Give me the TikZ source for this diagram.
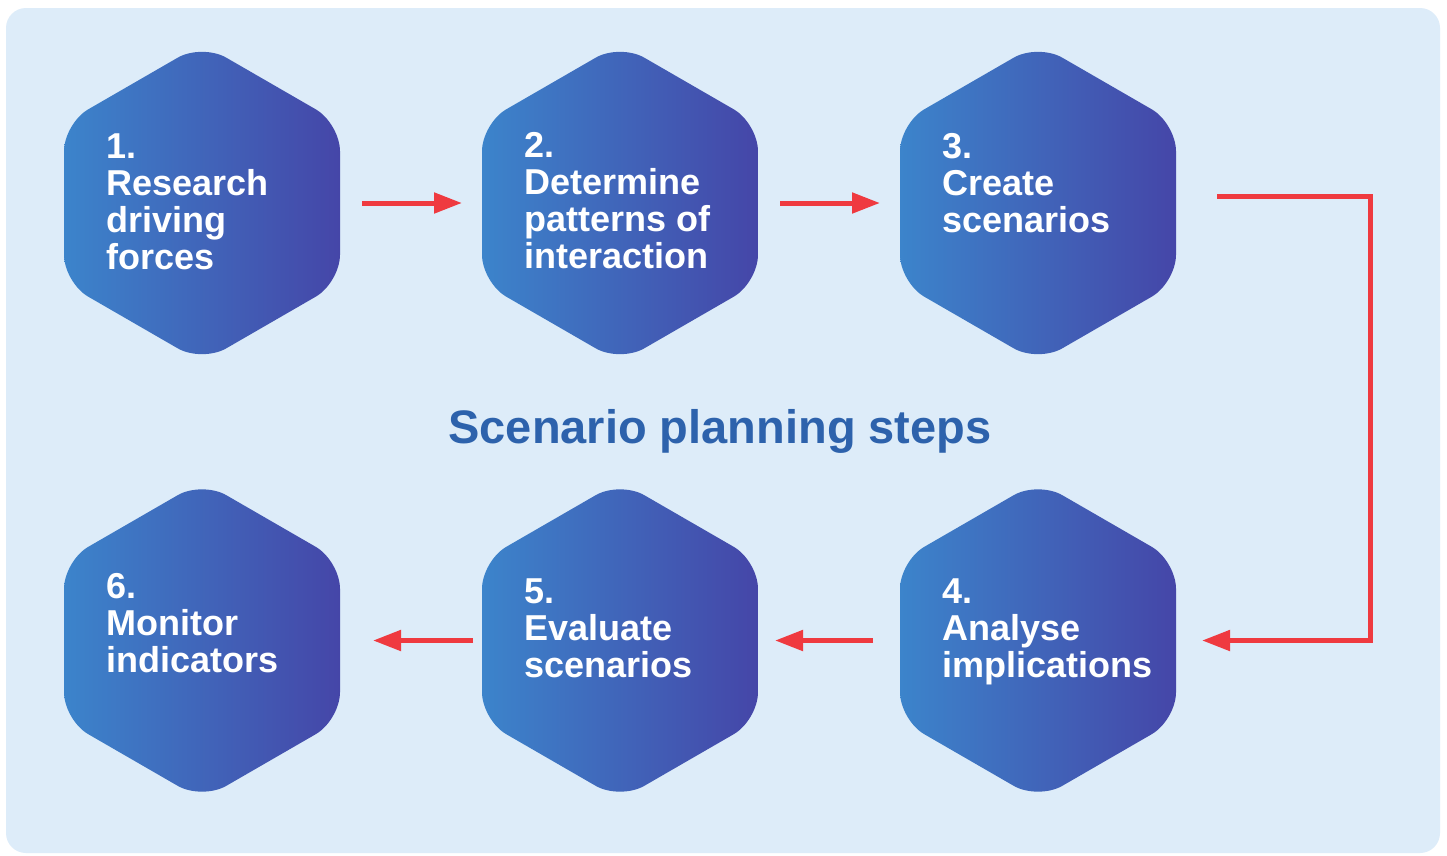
\documentclass[tikz,border=0pt]{standalone}
\usepackage{fontspec}
\setmainfont{Liberation Sans}
\usetikzlibrary{arrows.meta}
\definecolor{panelbg}{RGB}{221,236,249}
\definecolor{hexL}{RGB}{60,132,203}
\definecolor{hexR}{RGB}{69,70,168}
\definecolor{arrred}{RGB}{239,58,64}
\definecolor{titleblue}{RGB}{45,98,172}
\tikzset{
  hexbox/.style={minimum width=276pt, minimum height=304pt, inner sep=0pt, outer sep=0pt},
  hexfill/.style={left color=hexL, right color=hexR, rounded corners=28pt},
  steptext/.style={text=white, align=left, inner sep=0pt, anchor=base west,
    font=\fontsize{36}{37}\selectfont\bfseries},
  titletext/.style={text=titleblue, inner sep=0pt, font=\fontsize{47}{50}\selectfont\bfseries},
  arr/.style={draw=arrred, line width=5pt, -{Triangle[length=28pt,width=20pt]}}
}
\begin{document}
\begin{tikzpicture}[x=1pt,y=-1pt]
\useasboundingbox (0,0) rectangle (1447,855);
\fill[white] (0,0) rectangle (1447,855);
\fill[panelbg, rounded corners=20pt] (6,8) rectangle (1440,853);
\foreach \n/\cx/\cy in {1/202/203, 2/620/203, 3/1038/203, 4/1038/640.5, 5/620/640.5, 6/202/640.5} {
  \node[hexbox] (h\n) at (\cx,\cy) {};
  \path[hexfill] (h\n.center) ++(0,-159.35) -- ++(138,79.675) -- ++(0,159.35)
     -- ++(-138,79.675) -- ++(-138,-79.675) -- ++(0,-159.35) -- cycle;
}
\node[steptext] (t1) at (106,269) {1.\\Research\\driving\\forces};
\node[steptext] (t2) at (524,268) {2.\\Determine\\patterns of\\interaction};
\node[steptext] (t3) at (942,232) {3.\\Create\\scenarios};
\node[steptext] (t4) at (942,677) {4.\\Analyse\\implications};
\node[steptext] (t5) at (524,677) {5.\\Evaluate\\scenarios};
\node[steptext] (t6) at (106,672) {6.\\Monitor\\indicators};
\node[titletext] (title) at (720,431) {Scenario planning steps};
\draw[arr] ([xshift=22pt]h1.east) -- ([xshift=-20pt]h2.west);
\draw[arr] ([xshift=22pt]h2.east) -- ([xshift=-20pt]h3.west);
\draw[arr] ([xshift=41pt,yshift=7pt]h3.east) -- ++(153,0) |- ([xshift=26pt]h4.east);
\draw[arr] ([xshift=-27pt]h4.west) -- ([xshift=17pt]h5.east);
\draw[arr] ([xshift=-9pt]h5.west) -- ([xshift=33pt]h6.east);
\end{tikzpicture}
\end{document}
